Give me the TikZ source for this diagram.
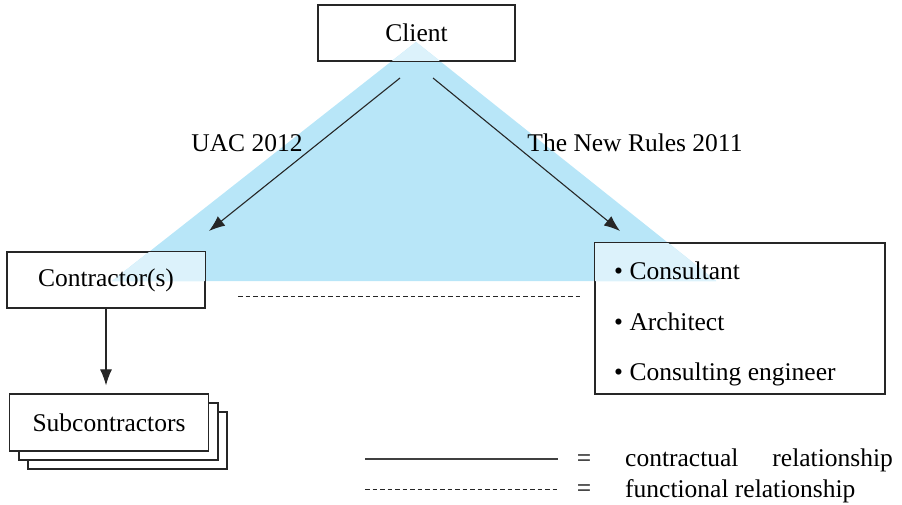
\documentclass[tikz,border=0pt]{standalone}
\usepackage{fontspec}
\setmainfont{Liberation Serif}
\usetikzlibrary{arrows.meta}
\definecolor{triblue}{RGB}{184,230,248}
\definecolor{paleblue}{RGB}{220,242,251}
\tikzset{
  box/.style={draw=black!85, line width=1.2pt, inner sep=0pt},
  solidbox/.style={draw=black!85, line width=1.2pt, fill=white, inner sep=0pt},
  label/.style={inner sep=0pt, font=\fontsize{25.5}{30}\selectfont},
  link/.style={line width=1.1pt, draw=black!85, -{Latex[length=16pt,width=12pt]}},
  functional/.style={line width=0.9pt, draw=black!85, dash pattern=on 4.5pt off 3pt},
  contractual/.style={line width=1.1pt, draw=black!75},
}
\begin{document}
\begin{tikzpicture}[x=1pt,y=-1pt]
\useasboundingbox (0,0) rectangle (902,505);

% shaded relationship triangle
\fill[triblue] (416,42) -- (716,281) -- (112,281) -- cycle;

% main parties
\node[box, minimum width=197pt, minimum height=56pt] (client) at (416.5,33) {};
\node[box, minimum width=198pt, minimum height=56pt] (contr) at (106,280) {};
\node[box, minimum width=290pt, minimum height=151pt] (cons) at (740,318.5) {};

% the triangle shows paler where it lies under a box
\begin{scope}
  \clip (416,42) -- (716,281) -- (112,281) -- cycle;
  \fill[paleblue] (client.north west) rectangle (client.south east);
  \fill[paleblue] (contr.north west) rectangle (contr.south east);
  \fill[paleblue] (cons.north west) rectangle (cons.south east);
\end{scope}
\draw[black!85, line width=1.2pt] (client.north west) rectangle (client.south east);
\draw[black!85, line width=1.2pt] (contr.north west) rectangle (contr.south east);
\draw[black!85, line width=1.2pt] (cons.north west) rectangle (cons.south east);

\node[label] at (client.center) {Client};
\node[label] at (contr.center) {Contractor(s)};
\node[label, anchor=west] (c1) at (614,271) {\textbullet\ Consultant};
\node[label, anchor=west] (c2) at (614,322) {\textbullet\ Architect};
\node[label, anchor=west] (c3) at (614,374) {\textbullet\ Consulting engineer};

% stacked subcontractor boxes
\node[solidbox, minimum width=199pt, minimum height=57pt] (sub3) at (127.5,440.5) {};
\node[solidbox, minimum width=199pt, minimum height=57pt] (sub2) at (118.5,431.5) {};
\node[solidbox, minimum width=199pt, minimum height=57pt] (sub) at (109,422.5) {};
\node[label] at (sub.center) {Subcontractors};

% contractual links
\coordinate (ls) at (400,78);
\coordinate (le) at (209,231);
\coordinate (rs) at (433,78);
\coordinate (re) at (620,231);
\draw[link] (ls) -- (le);
\draw[link] (rs) -- (re);
\draw[link, shorten >=8pt] (contr.south) -- (contr.south |- sub.north);

\node[label] (uac) at (247,143) {UAC 2012};
\node[label] (rules) at (635,143) {The New Rules 2011};

% functional link between contractor and consultants
\coordinate (fs) at (238,296);
\coordinate (fe) at (580,296);
\draw[functional] (fs) -- (fe);

% legend
\coordinate (k1a) at (365,459);
\coordinate (k1b) at (558,459);
\coordinate (k2a) at (365,489);
\coordinate (k2b) at (558,489);
\draw[contractual] (k1a) -- (k1b);
\draw[functional] (k2a) -- (k2b);
\node[label] (eq1) at (584,461) {=};
\node[label] (eq2) at (584,491) {=};
\node[label, anchor=west] (t1) at (625,460) {contractual\hspace{34pt}relationship};
\node[label, anchor=west] (t2) at (625,491) {functional relationship};
\end{tikzpicture}
\end{document}
